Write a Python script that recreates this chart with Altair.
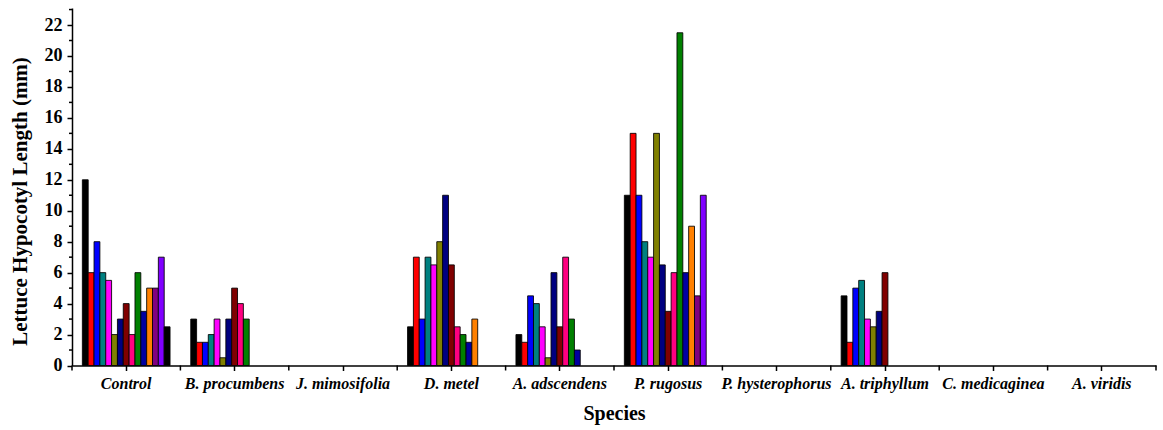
import altair as alt
import pandas as pd

# Categories on the x axis
species = [
    "Control", "B. procumbens", "J. mimosifolia", "D. metel", "A. adscendens",
    "P. rugosus", "P. hysterophorus", "A. triphyllum", "C. medicaginea", "A. viridis",
]

# Treatment series (one bar slot each inside every species group)
treatments = [f"T{i}" for i in range(1, 16)]
treatment_colors = [
    "#000000", "#FF0000", "#0000FF", "#008080", "#FF00FF",
    "#808000", "#000080", "#800000", "#FF0080", "#008000",
    "#0000A0", "#FF8000", "#800080", "#8000FF", "#000000",
]

# Hypocotyl length (mm) per species, in treatment order
control = [12, 6, 8, 6, 5.5, 2, 3, 4, 2, 6, 3.5, 5, 5, 7, 2.5]
b_procumbens = [3, 1.5, 1.5, 2, 3, 0.5, 3, 5, 4, 3]
j_mimosifolia = []
d_metel = [2.5, 7, 3, 7, 6.5, 8, 11, 6.5, 2.5, 2, 1.5, 3]
a_adscendens = [2, 1.5, 4.5, 4, 2.5, 0.5, 6, 2.5, 7, 3, 1]
p_rugosus = [11, 15, 11, 8, 7, 15, 6.5, 3.5, 6, 21.5, 6, 9, 4.5, 11]
p_hysterophorus = []
a_triphyllum = [4.5, 1.5, 5, 5.5, 3, 2.5, 3.5, 6]
c_medicaginea = []
a_viridis = []

series_by_species = [
    control, b_procumbens, j_mimosifolia, d_metel, a_adscendens,
    p_rugosus, p_hysterophorus, a_triphyllum, c_medicaginea, a_viridis,
]

y_major = list(range(0, 23, 2))
y_minor = list(range(1, 24, 2))

rows = []
for sp, vals in zip(species, series_by_species):
    for t, v in zip(treatments, vals):
        rows.append({"species": sp, "treatment": t, "length": v})
df = pd.DataFrame(rows)

W, H = 1084, 357.5
BAND = W / len(species)
GROUP = 87.7  # width taken by one full group of bars inside a band
FONT = "Liberation Serif"

x_scale = alt.Scale(domain=species, paddingInner=0, paddingOuter=0)
y_scale = alt.Scale(domain=[0, 23.1], nice=False, zero=True)

x_axis = alt.Axis(
    title="Species", labelAngle=0, labelFont=FONT, labelFontStyle="italic",
    labelFontWeight="bold", labelFontSize=16, labelColor="black",
    labelPadding=5, tickSize=5, tickWidth=1.5, tickColor="black",
    domainColor="black", domainWidth=1.5, bandPosition=0.5,
    titleFont=FONT, titleFontSize=20, titleFontWeight="bold",
    titleColor="black", titlePadding=12, grid=False,
)
y_axis = alt.Axis(
    title="Lettuce Hypocotyl Length (mm)", values=y_major, format="d",
    labelFont=FONT, labelFontWeight="bold", labelFontSize=18,
    labelColor="black", labelPadding=5, tickSize=5, tickWidth=1.5,
    tickColor="black", domainColor="black", domainWidth=1.5,
    titleFont=FONT, titleFontSize=21, titleFontWeight="bold",
    titleColor="black", titleX=-42, titleY=193, titleBaseline="bottom",
    titleAngle=270, titleAlign="center", grid=False,
)

bars = alt.Chart(df).mark_bar(stroke="black", strokeWidth=1, strokeOpacity=0.85).encode(
    x=alt.X("species:N", scale=x_scale, sort=species, axis=x_axis),
    xOffset=alt.XOffset(
        "treatment:N", sort=treatments,
        scale=alt.Scale(
            domain=treatments, paddingInner=0, paddingOuter=0,
            range=[(BAND - GROUP) / 2, (BAND + GROUP) / 2],
        ),
    ),
    y=alt.Y("length:Q", scale=y_scale, axis=y_axis),
    color=alt.Color(
        "treatment:N", sort=treatments,
        scale=alt.Scale(domain=treatments, range=treatment_colors), legend=None,
    ),
)

# Minor ticks on the y axis
minor_y = alt.Chart(pd.DataFrame({"length": y_minor})).mark_rule(
    color="black", strokeWidth=1.5
).encode(
    y=alt.Y("length:Q", scale=y_scale, axis=y_axis),
    x=alt.value(-3),
    x2=alt.value(0),
)

# Ticks at the group boundaries on the x axis
edges = pd.DataFrame({"species": species})
edge_left = alt.Chart(edges).mark_rule(color="black", strokeWidth=1.5).encode(
    x=alt.X("species:N", scale=x_scale, sort=species, axis=x_axis, bandPosition=0),
    y=alt.value(H),
    y2=alt.value(H + 5),
)
edge_right = alt.Chart(pd.DataFrame({"species": [species[-1]]})).mark_rule(
    color="black", strokeWidth=1.5
).encode(
    x=alt.X("species:N", scale=x_scale, sort=species, axis=x_axis, bandPosition=1),
    y=alt.value(H),
    y2=alt.value(H + 5),
)

chart = (
    alt.layer(bars, minor_y, edge_left, edge_right)
    .properties(
        width=W, height=H,
        autosize=alt.AutoSizeParams(type="none"),
        padding={"left": 72, "top": 8, "right": 7, "bottom": 64},
        background="white",
    )
    .configure_view(stroke=None)
)

chart.save("out.html", embed_options={"renderer": "svg", "actions": False})
